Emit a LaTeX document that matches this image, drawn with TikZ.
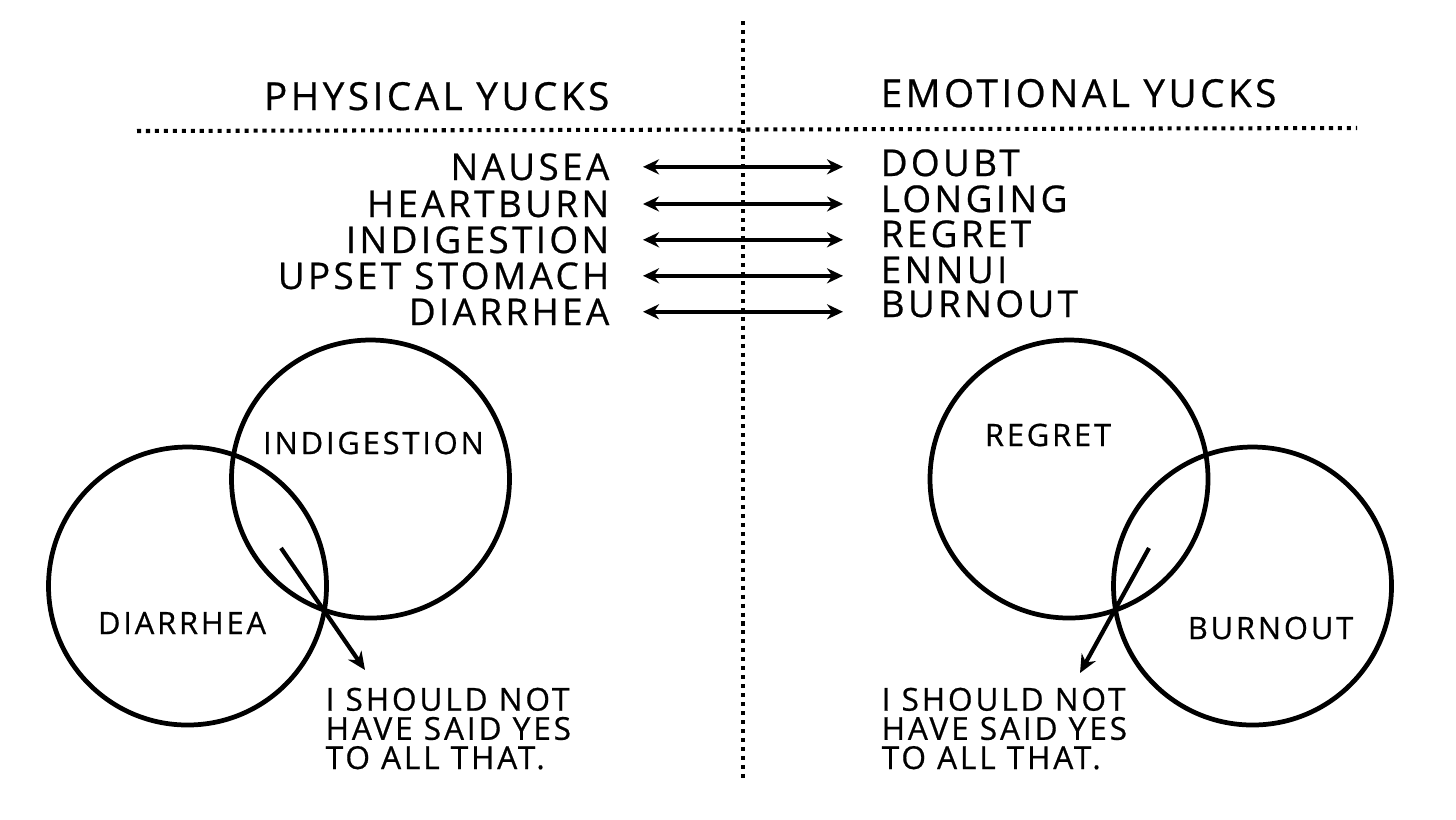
\documentclass[tikz,border=0pt]{standalone}
\usepackage{fontspec}
\setmainfont{Open Sans}[LetterSpace=9, FakeBold=0.6]
\usepackage{tikz}
\usetikzlibrary{positioning,arrows.meta}

\begin{document}
\begin{tikzpicture}[
    dotline/.style={draw, line width=1.15pt, dash pattern=on 1.15pt off 1.4pt},
    biarrow/.style={draw, line width=1.2pt, {Stealth[length=1.6mm,width=1.5mm]}-{Stealth[length=1.6mm,width=1.5mm]}},
    pointer/.style={draw, line width=1.2pt, -{Stealth[length=1.8mm,width=1.6mm]}},
    ring/.style={draw, circle, line width=1.35pt, minimum size=2.78cm, inner sep=0pt},
    head/.style={font=\fontsize{11}{13}\selectfont, inner sep=0pt},
    item/.style={font=\fontsize{10.5}{12}\selectfont, inner sep=0pt},
    tag/.style={font=\fontsize{8.8}{10}\selectfont, inner sep=0pt},
    note/.style={font=\fontsize{9}{8.3}\selectfont, inner sep=0pt, align=left}
]
\useasboundingbox (0,0) rectangle (14.56,-8.19);

% dividers
\draw[dotline] (7.43,-0.21) -- (7.43,-7.80);
\draw[dotline] (1.37,-1.31) -- (13.57,-1.28);

\node[head, anchor=base east] (phys) at (6.10,-1.10) {PHYSICAL YUCKS};
\node[head, anchor=base west] (emot) at (8.80,-1.07) {EMOTIONAL YUCKS};

% the two lists
\node[item, anchor=base east] (nausea) at (6.10,-1.80) {NAUSEA};
\node[item, anchor=base east] (heartburn) at (6.10,-2.17) {HEARTBURN};
\node[item, anchor=base east] (indigestion) at (6.10,-2.53) {INDIGESTION};
\node[item, anchor=base east] (upset) at (6.10,-2.89) {UPSET STOMACH};
\node[item, anchor=base east] (diarrhea) at (6.10,-3.25) {DIARRHEA};

\node[item, anchor=base west] (doubt) at (8.80,-1.76) {DOUBT};
\node[item, anchor=base west] (longing) at (8.80,-2.12) {LONGING};
\node[item, anchor=base west] (regret) at (8.80,-2.47) {REGRET};
\node[item, anchor=base west] (ennui) at (8.80,-2.83) {ENNUI};
\node[item, anchor=base west] (burnout) at (8.80,-3.17) {BURNOUT};

\draw[biarrow, shorten <=3.3mm, shorten >=3.7mm] (nausea.east) -- (nausea.east -| doubt.west);
\draw[biarrow, shorten <=3.3mm, shorten >=3.7mm] (heartburn.east) -- (heartburn.east -| longing.west);
\draw[biarrow, shorten <=3.3mm, shorten >=3.7mm] (indigestion.east) -- (indigestion.east -| regret.west);
\draw[biarrow, shorten <=3.3mm, shorten >=3.7mm] (upset.east) -- (upset.east -| ennui.west);
\draw[biarrow, shorten <=3.3mm, shorten >=3.7mm] (diarrhea.east) -- (diarrhea.east -| burnout.west);

% physical venn
\node[ring] (indring) at (3.705,-4.79) {};
\node[ring] (diaring) at (1.875,-5.86) {};
\node[tag] (indtag) at (3.735,-4.43) {INDIGESTION};
\node[tag] (diatag) at (1.82,-6.23) {DIARRHEA};

% emotional venn
\node[ring] (regring) at (10.69,-4.79) {};
\node[ring] (burring) at (12.525,-5.86) {};
\node[tag] (regtag) at (10.48,-4.35) {REGRET};
\node[tag] (burtag) at (12.705,-6.28) {BURNOUT};

\node[note, anchor=north west] (physnote) at (3.25,-6.87) {I SHOULD NOT\\HAVE SAID YES\\TO ALL THAT.};
\node[note, anchor=north west] (emotnote) at (8.81,-6.87) {I SHOULD NOT\\HAVE SAID YES\\TO ALL THAT.};

\coordinate (physfrom) at (2.81,-5.48);
\coordinate (emotfrom) at (11.49,-5.48);
\draw[pointer] (physfrom) -- ([xshift=4mm,yshift=1.7mm]physnote.north west);
\draw[pointer] (emotfrom) -- ([xshift=19.9mm,yshift=1.4mm]emotnote.north west);

\end{tikzpicture}
\end{document}
